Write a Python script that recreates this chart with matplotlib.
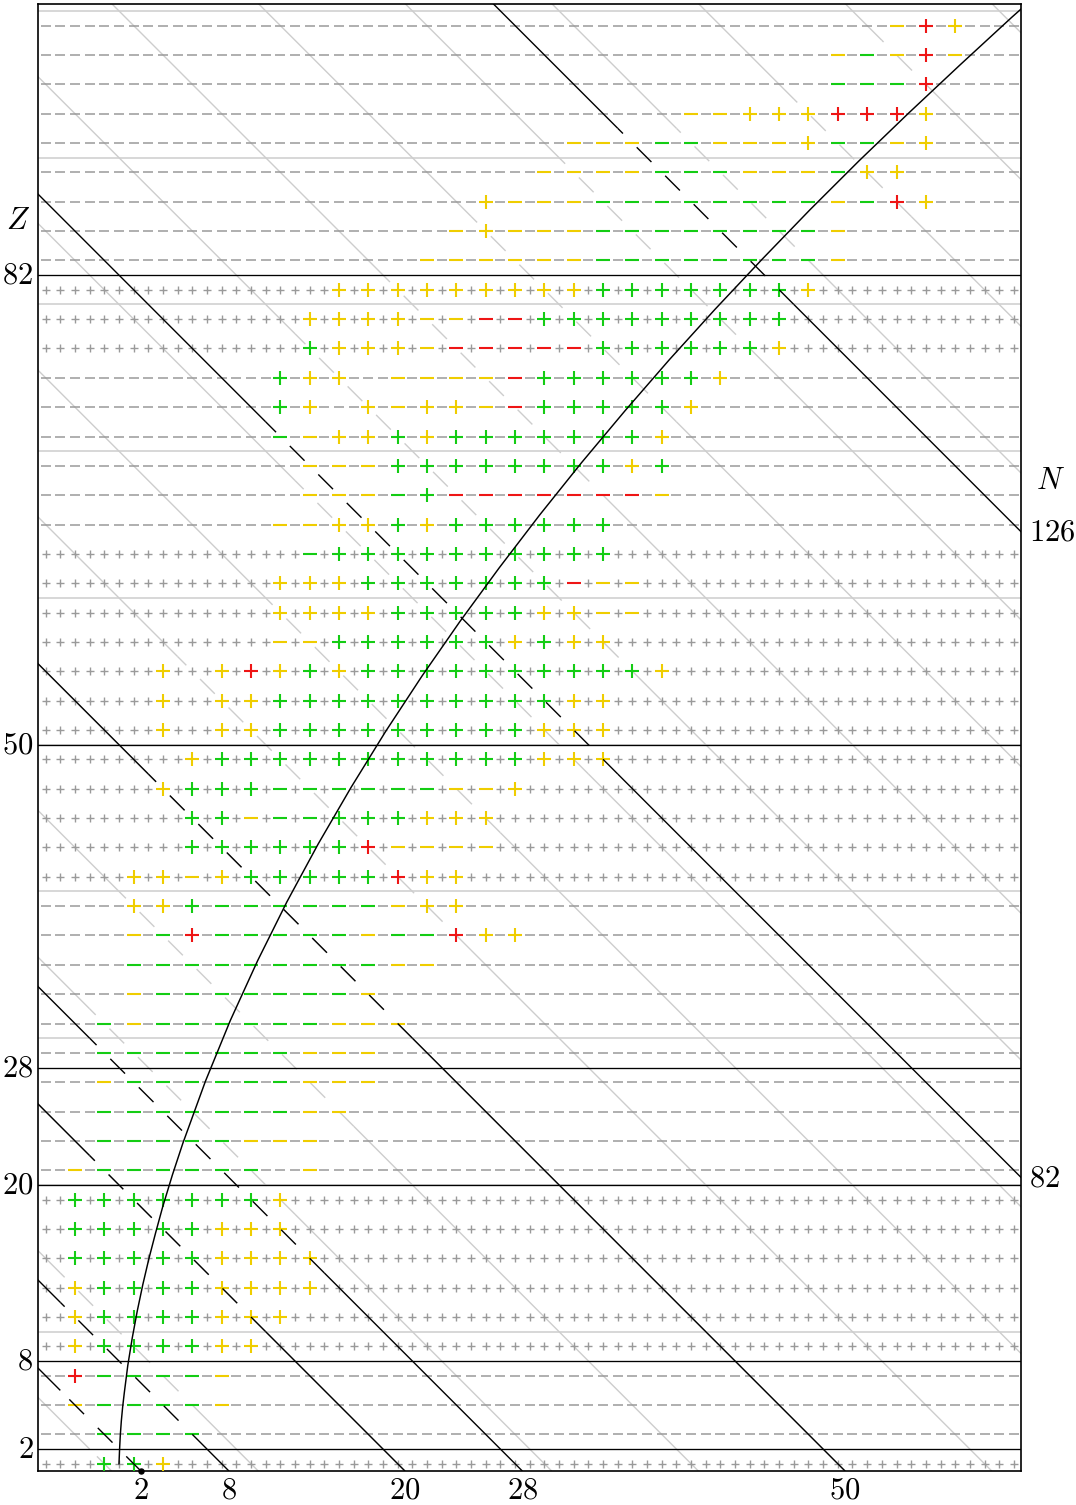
"""
Ground-state parity of odd-Z nuclei on the (N - Z, Z) plane.

Grey marks: predicted parity of every row.
Coloured marks: measured parity (green agrees, yellow tentative, red disagrees).
"""

import matplotlib
matplotlib.use("Agg")
import matplotlib.pyplot as plt


# =========================================================
# Data
# =========================================================

# odd proton numbers, one row each
Z_ROWS = list(range(1, 100, 2))

# neutron excess N - Z of every column, and of the measured (odd) columns
NZ_ALL = list(range(-5, 62))
NZ_ODD = list(range(-5, 62, 2))

# predicted parity of each row (same order as Z_ROWS)
PREDICTED = (
    "+---++++++"    # Z = 1 .. 19
    "----------"    # Z = 21 .. 39
    "++++++++++"    # Z = 41 .. 59
    "++------++"    # Z = 61 .. 79
    "+---------"    # Z = 81 .. 99
)

# measured parity on the odd columns NZ_ODD, one string per row
#   G/g green +/-   Y/y yellow +/-   R/r red +/-   . nothing
MEASURED = [
    "..GGY",                                            # 1
    "..gggg",                                           # 3
    ".yggggy",                                          # 5
    ".Rggggy",                                          # 7
    ".YGGGGYY",                                         # 9
    ".YGGGGYYY",                                        # 11
    ".YGGGGYYYY",                                       # 13
    ".GGGGGYYYY",                                       # 15
    ".GGGGGYYY",                                        # 17
    ".GGGGGGGY",                                        # 19
    ".ygggggg.y",                                       # 21
    "..gggggyyy",                                       # 23
    "..gggggggyy",                                      # 25
    "..yggggggyyy",                                     # 27
    "..gggggggyyy",                                     # 29
    "..gyggggggyyy",                                    # 31
    "...ygggggggy",                                     # 33
    "...gggggggggyy",                                   # 35
    "...ygRgggggyggRYY",                                # 37
    "...YYGggggggyYY",                                  # 39
    "...YYyYGGGGGRYY",                                  # 41
    ".....GGGGGGRyyyy",                                 # 43
    ".....GGyggGGGYYY",                                 # 45
    "....YGGGggggggyyY",                                # 47
    "....." + "Y" + "G" * 11 + "YYY",                   # 49
    "....Y.YY" + "G" * 9 + "YYY",                       # 51
    "....Y.YY" + "G" * 10 + "YY",                       # 53
    "....Y.YRYGY" + "G" * 10 + "Y",                     # 55
    "." * 8 + "yy" + "G" * 6 + "YGYY",                  # 57
    "." * 8 + "YYYY" + "G" * 5 + "YYyy",                # 59
    "." * 8 + "YYY" + "G" * 7 + "ryy",                  # 61
    "." * 9 + "g" + "G" * 10,                           # 63
    "." * 8 + "yyYYGY" + "G" * 6,                       # 65
    "." * 9 + "yyygG" + "r" * 7 + "y",                  # 67
    "." * 9 + "yyy" + "G" * 8 + "YG",                   # 69
    "." * 8 + "gyYYGY" + "G" * 7 + "Y",                 # 71
    "." * 8 + "GY.YyYYyr" + "G" * 5 + "Y",              # 73
    "." * 8 + "GYY.yyyyr" + "G" * 6 + "Y",              # 75
    "." * 9 + "GYYYy" + "r" * 5 + "G" * 6 + "Y",        # 77
    "." * 9 + "YYYYyyrr" + "G" * 9,                     # 79
    "." * 10 + "Y" * 9 + "G" * 7 + "Y",                 # 81
    "." * 13 + "y" * 6 + "g" * 8 + "y",                 # 83
    "." * 14 + "yYyyy" + "g" * 8 + "y",                 # 85
    "." * 15 + "Yyyy" + "g" * 8 + "ygRY",               # 87
    "." * 17 + "yyyyggg" + "yyy" + "gYY",               # 89
    "." * 18 + "yyyggyyyYggyY",                         # 91
    "." * 22 + "yyYYYRRRY",                             # 93
    "." * 27 + "gggR",                                  # 95
    "." * 27 + "ygyRy",                                 # 97
    "." * 29 + "yRY",                                   # 99
]

# magic numbers and decade guide lines
MAGIC_Z = [2, 8, 20, 28, 50, 82]
MAGIC_N = [2, 8, 20, 28, 50, 82, 126]
DECADE_Z = [10, 20, 30, 40, 50, 60, 70, 80, 90, 100]
DECADE_N = [0, 10, 20, 30, 40, 50, 60, 70, 80, 90, 100,
            110, 120, 130, 140, 150, 160]

# valley of stability (N - Z, Z)
STABLE_NZ = [0.00, 0.02, 0.04, 0.09, 0.16, 0.25, 0.36, 0.60, 0.90,
             1.24, 1.62, 2.04, 2.50, 2.98, 3.64, 4.35, 5.89, 7.59,
             9.45, 11.44, 13.57, 15.82, 18.18, 20.65, 23.23, 25.91,
             28.68, 31.54, 34.49, 37.52, 40.64, 43.84, 47.10, 50.44,
             53.86, 57.34, 60.86, 62.66]
STABLE_Z = [1.00, 1.49, 1.98, 2.95, 3.92, 4.87, 5.82, 7.70, 9.55,
            11.38, 13.19, 14.98, 16.75, 18.51, 20.68, 22.83, 27.06, 31.21,
            35.28, 39.28, 43.22, 47.09, 50.91, 54.67, 58.38, 62.04,
            65.66, 69.23, 72.75, 76.24, 79.68, 83.08, 86.45, 89.78,
            93.07, 96.33, 99.57, 101.17]


# =========================================================
# Style
# =========================================================

X_MIN, X_MAX = -5.5, 61.5
Y_MIN, Y_MAX = 0.5, 100.5

GREY = "#9a9a9a"
GUIDE = "#cdcdcd"
COLORS = {"g": "#14cc14", "y": "#efcd00", "r": "#ee1515"}

DASHES = (15, 14)
LABEL_SIZE = 22

plt.rcParams["mathtext.fontset"] = "cm"
plt.rcParams["lines.scale_dashes"] = False


# =========================================================
# Helpers
# =========================================================


def measured_points():

    points = {}

    for z, row in zip(Z_ROWS, MEASURED):

        row = row.ljust(len(NZ_ODD), ".")

        for nz, code in zip(NZ_ODD, row):

            if code != ".":
                points[(nz, z)] = code

    return points


def row_ranges(points):

    ranges = {}

    for (nz, z) in points:

        lo, hi = ranges.get(z, (nz, nz))
        ranges[z] = (min(lo, nz), max(hi, nz))

    return ranges


def line_segments(n, ranges):

    """Split the line N = n into solid parts and dashed parts
    (dashed where it runs through the measured region)."""

    bands = []

    for z in Z_ROWS:

        lo, hi = ranges.get(z, (1, 0))
        bands.append([max(z - 1, Y_MIN), z + 1, lo <= n - z <= hi])

    bands.append([Z_ROWS[-1] + 1, Y_MAX, False])

    merged = [bands[0]]

    for b in bands[1:]:

        if b[2] == merged[-1][2]:
            merged[-1][1] = b[1]
        else:
            merged.append(b)

    return merged


def draw_n_line(ax, n, ranges, color, lw, zorder):

    for z0, z1, inside in line_segments(n, ranges):

        line, = ax.plot([n - z0, n - z1], [z0, z1],
                        color=color, lw=lw, zorder=zorder,
                        solid_capstyle="butt", dash_capstyle="butt")

        if inside:
            line.set_dashes(DASHES)


# =========================================================
# Main
# =========================================================


def main():

    points = measured_points()
    ranges = row_ranges(points)

    fig = plt.figure(figsize=(10.76, 15.05), dpi=100)

    ax = fig.add_axes([38.3 / 1076, 33.9 / 1505,
                       982.9 / 1076, 1467.5 / 1505])

    ax.set_xlim(X_MIN, X_MAX)
    ax.set_ylim(Y_MIN, Y_MAX)
    ax.set_xticks([])
    ax.set_yticks([])

    for s in ax.spines.values():
        s.set_linewidth(1.2)

    # guide lines
    for z in DECADE_Z:
        ax.axhline(z, color=GUIDE, lw=1.1, zorder=1)

    for n in DECADE_N:
        draw_n_line(ax, n, ranges, GUIDE, 1.0, 1)

    # predicted parity (grey)
    grey_plus, grey_minus = ([], []), ([], [])

    for z, sign in zip(Z_ROWS, PREDICTED):

        target = grey_plus if sign == "+" else grey_minus

        for nz in NZ_ALL:

            if (nz, z) not in points:
                target[0].append(nz)
                target[1].append(z)

    ax.plot(*grey_plus, ls="none", marker="+", ms=6.0, mew=1.0,
            color=GREY, zorder=2)
    ax.plot(*grey_minus, ls="none", marker="_", ms=7.0, mew=1.1,
            color=GREY, zorder=2)

    # measured parity (coloured)
    groups = {}

    for (nz, z), code in points.items():

        groups.setdefault(code, ([], []))
        groups[code][0].append(nz)
        groups[code][1].append(z)

    for code, (xs, zs) in groups.items():

        plus = code.isupper()

        ax.plot(xs, zs, ls="none",
                marker="+" if plus else "_",
                ms=9.4 if plus else 9.6,
                mew=1.5,
                color=COLORS[code.lower()],
                zorder=3)

    # magic numbers
    for z in MAGIC_Z:
        ax.axhline(z, color="black", lw=0.95, zorder=4)

    for n in MAGIC_N:
        draw_n_line(ax, n, ranges, "black", 1.0, 4)

    # valley of stability
    ax.plot(STABLE_NZ, STABLE_Z, color="black", lw=1.05, zorder=4)

    # labels
    for z in MAGIC_Z:
        ax.annotate(rf"${z}$", xy=(X_MIN, z), xytext=(-5, 0),
                    textcoords="offset pixels", ha="right", va="center",
                    fontsize=LABEL_SIZE, annotation_clip=False)

    for n in MAGIC_N:

        if n - Y_MIN <= X_MAX:
            ax.annotate(rf"${n}$", xy=(n - Y_MIN, Y_MIN), xytext=(0, -19),
                        textcoords="offset pixels", ha="center",
                        va="center", fontsize=LABEL_SIZE,
                        annotation_clip=False)
        else:
            ax.annotate(rf"${n}$", xy=(X_MAX, n - X_MAX), xytext=(8, 0),
                        textcoords="offset pixels", ha="left",
                        va="center", fontsize=LABEL_SIZE,
                        annotation_clip=False)

    ax.annotate(r"$Z$", xy=(X_MIN, 85.75), xytext=(-20, 0),
                textcoords="offset pixels", ha="center", va="center",
                fontsize=LABEL_SIZE, annotation_clip=False)

    ax.annotate(r"$N$", xy=(X_MAX, 68.0), xytext=(29, 0),
                textcoords="offset pixels", ha="center", va="center",
                fontsize=LABEL_SIZE, annotation_clip=False)

    ax.plot([1.5], [Y_MIN], "o", color="black", ms=3.6, clip_on=False,
            zorder=6)

    fig.savefig("out.png", dpi=100)
    plt.close(fig)


if __name__ == "__main__":

    main()
